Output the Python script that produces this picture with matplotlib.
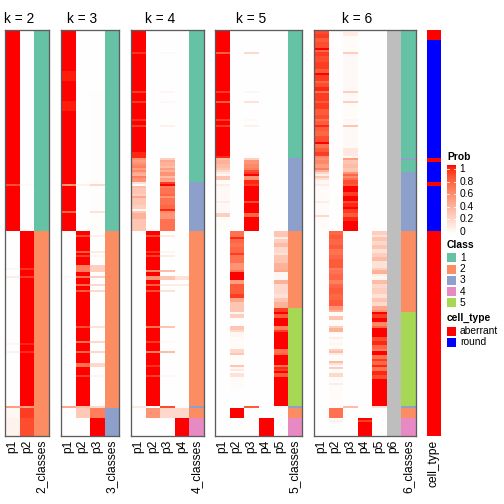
import numpy as np
import matplotlib
matplotlib.use("Agg")
import matplotlib.pyplot as plt
from matplotlib.colors import ListedColormap, to_rgb
from matplotlib.patches import Rectangle

plt.rcParams['font.family'] = ['Liberation Sans', 'DejaVu Sans']

# ---------------- data ----------------
N_SAMPLES = 200
K_VALUES = [2, 3, 4, 5, 6]

# each series: list of (start_row, value); value holds until next start
K2_P1 = [(0, 1), (76, 0.85), (77, 1), (99, 0), (117, 0.05), (118, 0), (121, 0.1), (122, 0),
         (154, 0.05), (155, 0), (158, 0.07), (159, 0), (185, 0.5), (186, 0.04), (191, 0.07)]
K2_P2 = [(0, 0), (76, 0.03), (77, 0), (99, 1), (117, 0.93), (118, 1), (121, 0.9), (122, 1),
         (154, 0.95), (155, 1), (158, 0.93), (159, 1), (185, 0.5), (186, 0.9), (191, 0.85)]
K2_CLASS = [(0, 1), (99, 2)]

K3_P1 = [(0, 1), (20, 0.97), (25, 1), (35, 0.97), (40, 1), (76, 0.55), (77, 1), (89, 0.75), (90, 1),
         (99, 0), (121, 0.04), (122, 0), (185, 0.45), (186, 0)]
K3_P2 = [(0, 0), (76, 0.08), (77, 0), (99, 1), (101, 0.85), (102, 1), (109, 0.8), (110, 1), (111, 0.9),
         (112, 1), (116, 0.65), (119, 1), (121, 0.7), (122, 1), (125, 0.75), (126, 1), (128, 0.8),
         (129, 1), (146, 0.85), (147, 1), (153, 0.7), (154, 1), (158, 0.75), (159, 1), (164, 0.7),
         (166, 1), (170, 0.9), (171, 1), (185, 0.35), (186, 0.28), (191, 0)]
K3_P3 = [(0, 0), (30, 0.01), (76, 0.2), (77, 0.01), (89, 0.15), (90, 0.01), (99, 0), (101, 0.08),
         (102, 0), (109, 0.1), (110, 0), (111, 0.05), (112, 0), (116, 0.25), (119, 0), (121, 0.25),
         (122, 0), (125, 0.2), (126, 0), (128, 0.2), (129, 0), (146, 0.15), (147, 0), (153, 0.2),
         (154, 0), (158, 0.2), (159, 0), (164, 0.2), (166, 0), (170, 0.05), (171, 0), (185, 0.2),
         (186, 0.65), (191, 1)]
K3_CLASS = [(0, 1), (99, 2), (186, 3)]

K4_P1 = [(0, 1), (11, 0.92), (12, 1), (30, 0.9), (31, 1), (35, 0.9), (36, 1), (44, 0.93), (45, 1),
         (47, 0.9), (48, 1), (60, 0.95), (63, 0.55), (64, 0.5), (65, 0.55), (66, 0.6), (67, 0.65),
         (68, 0.5), (69, 0.6), (70, 0.45), (71, 0.4), (72, 0.65), (73, 0.55), (75, 0.15), (76, 0),
         (77, 0.35), (78, 0.3), (81, 0.25), (82, 0.45), (83, 0.3), (86, 0.25), (88, 0.05), (89, 0.3),
         (90, 0.4), (93, 0.3), (99, 0), (185, 0.12), (186, 0)]
K4_P2 = [(0, 0), (99, 1), (101, 0.85), (102, 1), (109, 0.92), (110, 1), (111, 0.9), (112, 1),
         (118, 0.6), (119, 1), (121, 0.55), (123, 1), (125, 0.8), (126, 1), (128, 0.85), (129, 1),
         (146, 0.7), (147, 1), (153, 0.9), (154, 1), (158, 0.65), (159, 1), (165, 0.93), (166, 1),
         (170, 0.9), (171, 1), (185, 0), (186, 0.55), (191, 0)]
K4_P3 = [(0, 0), (11, 0.03), (12, 0), (30, 0.05), (31, 0), (35, 0.04), (36, 0), (47, 0.08), (48, 0),
         (63, 0.25), (64, 0.45), (65, 0.4), (67, 0.35), (68, 0.5), (69, 0.4), (70, 0.55), (72, 0.35),
         (73, 0.5), (74, 0.45), (75, 0.9), (76, 1), (77, 0.65), (78, 0.7), (81, 0.75), (82, 0.55),
         (83, 0.7), (86, 0.75), (88, 0.95), (89, 0.6), (90, 0.55), (93, 0.7), (99, 0), (101, 0.1),
         (102, 0), (109, 0.05), (110, 0), (111, 0.1), (112, 0), (118, 0.35), (119, 0), (121, 0.3),
         (123, 0), (125, 0.1), (126, 0), (128, 0.15), (129, 0), (146, 0.3), (147, 0), (153, 0.03),
         (154, 0), (158, 0.35), (159, 0), (170, 0.04), (171, 0), (185, 0.85), (186, 0.2), (191, 0)]
K4_P4 = [(0, 0), (121, 0.15), (123, 0), (125, 0.1), (126, 0), (185, 0.03), (186, 0.2), (191, 1)]
K4_CLASS = [(0, 1), (75, 3), (99, 2), (185, 3), (186, 2), (191, 4)]

K5_P1 = [(0, 1), (11, 0.8), (12, 1), (30, 0.9), (31, 1), (35, 0.8), (36, 1), (44, 0.9), (45, 1),
         (47, 0.9), (48, 1), (62, 0.95), (63, 0.35), (64, 0.4), (66, 0.35), (68, 0.3), (69, 0.2),
         (70, 0.1), (71, 0.05), (72, 0.3), (74, 0.02), (76, 0.1), (77, 0.03), (84, 0.1), (85, 0.03),
         (90, 0.25), (92, 0.02), (99, 0)]
K5_P2 = [(0, 0), (99, 0.7), (102, 0.95), (103, 0.75), (105, 0.7), (107, 0.75), (110, 0.9), (111, 0.7),
         (115, 0.55), (118, 0.7), (119, 1), (123, 0.5), (125, 0.8), (130, 0.9), (132, 0.45),
         (134, 0.3), (137, 0.3), (139, 0.05), (140, 0.25), (142, 0), (146, 0.3), (148, 0.2),
         (149, 0.05), (151, 0.02), (157, 0.2), (159, 0.3), (160, 0.02), (165, 0.3), (166, 0.05),
         (167, 0.12), (168, 0), (169, 0.15), (171, 0.02), (177, 0), (186, 1), (191, 0)]
K5_P3 = [(0, 0), (11, 0.2), (12, 0), (30, 0.05), (31, 0), (35, 0.15), (36, 0), (44, 0.03), (45, 0),
         (47, 0.08), (48, 0), (63, 0.25), (64, 0.55), (66, 0.6), (68, 0.65), (69, 0.85), (70, 0.9),
         (71, 1), (72, 0.55), (74, 0.95), (76, 0.9), (77, 1), (84, 0.85), (85, 1), (90, 0.75),
         (92, 1), (99, 0), (185, 0.8), (186, 0)]
K5_P4 = [(0, 0), (191, 1)]
K5_P5 = [(0, 0), (99, 0.3), (102, 0.1), (103, 0.25), (105, 0.35), (107, 0.2), (110, 0.15), (111, 0.3),
         (115, 0.4), (118, 0.45), (119, 0.05), (123, 0.4), (125, 0.2), (130, 0.15), (132, 0.3),
         (134, 0.4), (137, 0.9), (139, 1), (140, 0.8), (142, 1), (146, 0.65), (148, 0.9), (149, 1),
         (157, 0.7), (159, 0.75), (160, 1), (165, 0.7), (166, 0.95), (167, 0.9), (168, 1),
         (169, 0.8), (171, 1), (185, 0.05), (186, 0)]
K5_CLASS = [(0, 1), (63, 3), (99, 2), (137, 5), (185, 3), (186, 2), (191, 4)]

K6_P1 = [(0, 0.85), (2, 0.9), (4, 0.8), (6, 0.85), (9, 1), (10, 0.75), (11, 0.9), (13, 0.85),
         (16, 0.9), (19, 0.8), (21, 1), (22, 0.9), (25, 0.75), (26, 0.85), (28, 0.95), (30, 0.7),
         (31, 0.9), (35, 0.8), (36, 0.9), (39, 0.8), (42, 0.85), (44, 0.7), (45, 0.8), (47, 0.95),
         (48, 0.8), (50, 0.75), (52, 0.85), (55, 1), (56, 0.7), (58, 0.8), (60, 0.9), (62, 0.6),
         (63, 0.55), (64, 0.6), (66, 0.5), (68, 0.65), (69, 0.4), (70, 0.2), (71, 0.1), (72, 0.3),
         (73, 0.15), (74, 0.05), (76, 0.1), (77, 0.02), (84, 0.1), (85, 0.02), (91, 0.2), (92, 0.02),
         (99, 0)]
K6_P2 = [(0, 0), (99, 0.75), (101, 0.8), (103, 0.75), (106, 0.8), (108, 0.7), (111, 0.75), (113, 0.8),
         (117, 0.65), (118, 0.7), (120, 0.75), (123, 0.65), (125, 0.75), (127, 0.8), (130, 0.75),
         (133, 0.8), (136, 0.55), (138, 0.4), (139, 0.02), (141, 0.3), (143, 0.02), (146, 0.25),
         (147, 0.4), (149, 0.02), (151, 0.1), (152, 0.02), (154, 0.05), (155, 0.02), (157, 0.25),
         (158, 0.35), (159, 0.1), (160, 0.02), (163, 0.35), (164, 0.15), (165, 0.03), (166, 0.25),
         (167, 0.02), (169, 0.2), (171, 0.02), (174, 0.1), (175, 0.02), (186, 0.7), (191, 0.02),
         (192, 0.08), (193, 0)]
K6_P3 = [(0, 0.02), (1, 0.1), (3, 0.02), (11, 0.25), (12, 0.03), (30, 0.25), (31, 0.03), (35, 0.25),
         (36, 0.02), (44, 0.05), (45, 0.02), (47, 0.3), (48, 0.03), (58, 0.12), (62, 0.05), (63, 0.5),
         (64, 0.3), (66, 0.35), (68, 0.3), (70, 0.55), (71, 0.75), (72, 0.6), (73, 0.7), (74, 0.85),
         (76, 0.8), (77, 1), (80, 0.9), (82, 1), (84, 0.85), (85, 0.95), (87, 1), (88, 0.9), (90, 0.8),
         (92, 0.95), (94, 1), (99, 0), (185, 0.35), (186, 0)]
K6_P4 = [(0, 0), (191, 1), (192, 0.9), (193, 1)]
K6_P5 = [(0, 0), (99, 0.25), (101, 0.15), (102, 0.3), (104, 0.2), (106, 0.3), (108, 0.15), (110, 0.25),
         (112, 0.35), (114, 0.15), (117, 0.25), (118, 0.4), (120, 0.1), (121, 0.05), (123, 0.35),
         (125, 0.2), (127, 0.25), (130, 0.15), (132, 0.3), (134, 0.2), (136, 0.45), (138, 0.55),
         (139, 1), (140, 0.9), (142, 1), (144, 0.6), (146, 0.75), (147, 1), (151, 0.85), (153, 0.95),
         (155, 0.75), (157, 0.65), (158, 1), (160, 0.7), (162, 0.9), (163, 0.75), (165, 0.95),
         (166, 0.7), (168, 0.95), (170, 0.85), (172, 1), (185, 0.15), (186, 0)]
K6_P6 = None   # empty cluster, shown grey
K6_CLASS = [(0, 1), (63, 3), (64, 1), (70, 3), (99, 2), (139, 5), (185, 3), (186, 2), (191, 4)]

CELL_TYPE = [(0, 'aberrant'), (5, 'round'), (63, 'aberrant'), (65, 'round'),
             (75, 'aberrant'), (77, 'round'), (99, 'aberrant')]

PROBS = {2: [K2_P1, K2_P2],
         3: [K3_P1, K3_P2, K3_P3],
         4: [K4_P1, K4_P2, K4_P3, K4_P4],
         5: [K5_P1, K5_P2, K5_P3, K5_P4, K5_P5],
         6: [K6_P1, K6_P2, K6_P3, K6_P4, K6_P5, K6_P6]}
CLASSES = {2: K2_CLASS, 3: K3_CLASS, 4: K4_CLASS, 5: K5_CLASS, 6: K6_CLASS}

CLASS_LABELS = ['1', '2', '3', '4', '5']
CLASS_COLORS = {1: '#66C2A5', 2: '#FC8D62', 3: '#8DA0CB', 4: '#E78AC3', 5: '#A6D854'}
CELL_LABELS = ['aberrant', 'round']
CELL_COLORS = {'aberrant': '#FF0000', 'round': '#0000FF'}
EMPTY_COLOR = '#BEBEBE'
PROB_TICKS = [0, 0.2, 0.4, 0.6, 0.8, 1]


def expand(bp, n=N_SAMPLES):
    out = [None] * n
    starts = [s for s, _ in bp] + [n]
    for (s, v), e in zip(bp, starts[1:]):
        for i in range(s, min(e, n)):
            out[i] = v
    return out


# ---- white -> red colour ramp interpolated in LAB space ----
_WP = np.array([0.95047, 1.0, 1.08883])


def _to_lab(rgb):
    c = np.asarray(rgb, float)
    lin = np.where(c <= 0.04045, c / 12.92, ((c + 0.055) / 1.055) ** 2.4)
    M = np.array([[0.4124, 0.3576, 0.1805], [0.2126, 0.7152, 0.0722], [0.0193, 0.1192, 0.9505]])
    xyz = (M @ lin) / _WP
    f = np.where(xyz > 0.008856, np.cbrt(xyz), 7.787 * xyz + 16 / 116)
    return np.array([116 * f[1] - 16, 500 * (f[0] - f[1]), 200 * (f[1] - f[2])])


def _from_lab(lab):
    L, a, b = lab
    fy = (L + 16) / 116
    f = np.array([fy + a / 500, fy, fy - b / 200])
    xyz = np.where(f ** 3 > 0.008856, f ** 3, (f - 16 / 116) / 7.787) * _WP
    Minv = np.array([[3.2406, -1.5372, -0.4986], [-0.9689, 1.8758, 0.0415], [0.0557, -0.2040, 1.0570]])
    lin = np.clip(Minv @ xyz, 0, 1)
    c = np.where(lin <= 0.0031308, 12.92 * lin, 1.055 * lin ** (1 / 2.4) - 0.055)
    return np.clip(c, 0, 1)


lab_w, lab_r = _to_lab([1, 1, 1]), _to_lab([1, 0, 0])
prob_cmap = ListedColormap([_from_lab(lab_w + t * (lab_r - lab_w)) for t in np.linspace(0, 1, 256)])

# ---------------- figure ----------------
W = H = 504
fig = plt.figure(figsize=(W / 72, H / 72), dpi=72)

TOP, BOTTOM = 30, 435.7
COLW = 14.55
PANEL_X0 = {2: 5, 3: 60.7, 4: 131, 5: 214.7, 6: 313.7}
CELL_X0 = 427
BORDER = '#5c5c5c'


def add_px_axes(x0, x1, y0, y1):
    return fig.add_axes([x0 / W, 1 - y1 / H, (x1 - x0) / W, (y1 - y0) / H])


for k in K_VALUES:
    cols = PROBS[k]
    ncol = len(cols) + 1
    x0 = PANEL_X0[k]
    x1 = x0 + ncol * COLW
    ax = add_px_axes(x0, x1, TOP, BOTTOM)
    img = np.zeros((N_SAMPLES, ncol, 3))
    for j, series in enumerate(cols):
        if series is None:
            img[:, j, :] = to_rgb(EMPTY_COLOR)
        else:
            vals = np.array(expand(series), float)
            img[:, j, :] = prob_cmap(np.clip(vals, 0, 1))[:, :3]
    cl = expand(CLASSES[k])
    img[:, ncol - 1, :] = np.array([to_rgb(CLASS_COLORS[c]) for c in cl])
    ax.imshow(img, aspect='auto', interpolation='nearest', extent=(0, ncol, N_SAMPLES, 0))
    ax.set_xlim(0, ncol)
    ax.set_ylim(N_SAMPLES, 0)
    ax.set_yticks([])
    ax.set_xticks(np.arange(ncol) + 0.5)
    ax.set_xticklabels([f'p{i + 1}' for i in range(len(cols))] + [f'{k}_classes'],
                       rotation=90, fontsize=12)
    ax.tick_params(axis='x', length=0, pad=4.3)
    for sp in ax.spines.values():
        sp.set_color(BORDER)
        sp.set_linewidth(1.3)
    cx = x0 + len(cols) * COLW / 2
    fig.text(cx / W, 1 - 22.7 / H, f'k = {k}', ha='center', va='baseline', fontsize=13.7)

# cell type annotation
ax = add_px_axes(CELL_X0, CELL_X0 + 14, TOP, BOTTOM)
ct = expand(CELL_TYPE)
img = np.array([to_rgb(CELL_COLORS[c]) for c in ct])[:, None, :]
ax.imshow(img, aspect='auto', interpolation='nearest', extent=(0, 1, N_SAMPLES, 0))
ax.set_yticks([])
ax.set_xticks([0.5])
ax.set_xticklabels(['cell_type'], rotation=90, fontsize=12)
ax.tick_params(axis='x', length=0, pad=4.3)
for sp in ax.spines.values():
    sp.set_visible(False)

# ---------------- legends ----------------
lg = fig.add_axes([0, 0, 1, 1])
lg.set_xlim(0, W)
lg.set_ylim(H, 0)
lg.axis('off')

LX = 447
TITLE_FS = 10.3
LABEL_FS = 10.3
lg.text(LX, 157.5, 'Prob', fontsize=TITLE_FS, fontweight='bold', va='center', ha='left')
cb_top, cb_bot = 169.3, 232.0
grad = np.linspace(1, 0, 200)[:, None]
lg.imshow(grad, cmap=prob_cmap, vmin=0, vmax=1, aspect='auto', interpolation='bilinear',
          extent=(LX, LX + 9, cb_bot + 2.5, cb_top - 3.5), zorder=2)
for t in PROB_TICKS:
    yy = cb_bot - t * (cb_bot - cb_top)
    lg.plot([LX, LX + 2], [yy, yy], color='white', lw=0.8, zorder=3)
    lg.plot([LX + 7, LX + 9], [yy, yy], color='white', lw=0.8, zorder=3)
    lg.text(LX + 12.5, yy, f'{t:g}', fontsize=LABEL_FS, va='center', ha='left')

lg.text(LX, 244.5, 'Class', fontsize=TITLE_FS, fontweight='bold', va='center', ha='left')
for i, lab in enumerate(CLASS_LABELS):
    yy = 253.3 + i * 11.25
    lg.add_patch(Rectangle((LX, yy), 9, 9, facecolor=CLASS_COLORS[int(lab)], edgecolor='none'))
    lg.text(LX + 13, yy + 4.5, lab, fontsize=LABEL_FS, va='center', ha='left')

lg.text(LX, 318.3, 'cell_type', fontsize=TITLE_FS, fontweight='bold', va='center', ha='left')
for i, lab in enumerate(CELL_LABELS):
    yy = 326.7 + i * 11
    lg.add_patch(Rectangle((LX, yy), 9, 9, facecolor=CELL_COLORS[lab], edgecolor='none'))
    lg.text(LX + 13, yy + 4.5, lab, fontsize=LABEL_FS, va='center', ha='left')

fig.savefig('out.png', dpi=72)
